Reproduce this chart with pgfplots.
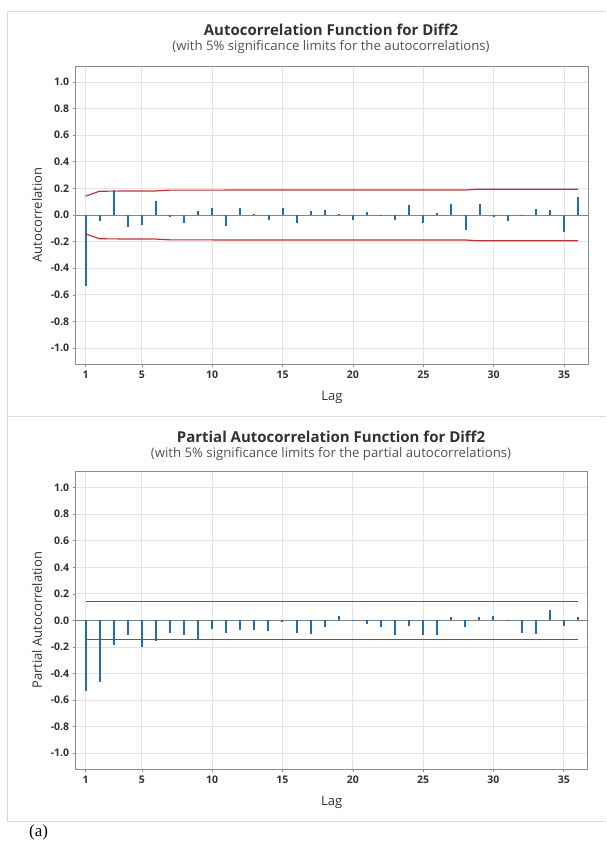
\documentclass[border=0pt]{standalone}
\usepackage{fontspec}
\setmainfont{Open Sans}
\newfontfamily\serifa{Liberation Serif}
\usepackage{pgfplots}
\pgfplotsset{compat=1.18}
\definecolor{barblue}{RGB}{31,108,186}
\definecolor{limred}{RGB}{190,50,50}
\definecolor{gridgray}{RGB}{228,228,228}
\definecolor{framegray}{RGB}{140,140,140}
\definecolor{zerogray}{RGB}{130,130,130}
\definecolor{textdark}{RGB}{50,50,50}
\definecolor{panelgray}{RGB}{220,220,220}

\pgfplotstableread{
lag acf
1 -0.535
2 -0.045
3 0.19
4 -0.09
5 -0.075
6 0.105
7 -0.012
8 -0.057
9 0.032
10 0.055
11 -0.08
12 0.05
13 0.01
14 -0.035
15 0.05
16 -0.06
17 0.028
18 0.04
19 0.005
20 -0.04
21 0.022
22 -0.005
23 -0.035
24 0.075
25 -0.06
26 0.018
27 0.085
28 -0.115
29 0.083
30 -0.012
31 -0.048
32 0.003
33 0.048
34 0.04
35 -0.128
36 0.138
}\acftable

\pgfplotstableread{
lag pacf
1 -0.535
2 -0.465
3 -0.1875
4 -0.1075
5 -0.2
6 -0.1575
7 -0.0975
8 -0.1075
9 -0.14
10 -0.0625
11 -0.0975
12 -0.0725
13 -0.0725
14 -0.08
15 -0.0125
16 -0.0925
17 -0.105
18 -0.0525
19 0.0325
20 0.002
21 -0.0275
22 -0.0475
23 -0.1075
24 -0.04
25 -0.1075
26 -0.1075
27 0.025
28 -0.0475
29 0.0275
30 0.03
31 -0.002
32 -0.095
33 -0.1
34 0.075
35 -0.04
36 0.025
}\pacftable

\pgfplotsset{
  acfstyle/.style={
    scale only axis,
    xmin=0.3, xmax=36.7, ymin=-1.12, ymax=1.12,
    xtick={1,5,10,15,20,25,30,35},
    ytick={-1.0,-0.8,-0.6,-0.4,-0.2,0,0.2,0.4,0.6,0.8,1.0},
    grid=major,
    grid style={draw=gridgray, line width=0.8pt},
    axis line style={draw=framegray, line width=0.8pt},
    tick style={draw=framegray, line width=0.6pt},
    major tick length=3pt,
    tick align=outside,
    xtick pos=bottom, ytick pos=left,
    ticklabel style={font=\fontsize{10.5}{12}\selectfont\bfseries, text=textdark},
    yticklabel style={/pgf/number format/.cd, fixed, fixed zerofill, precision=1, assume math mode=true},
    xticklabel style={/pgf/number format/assume math mode=true},
    label style={font=\fontsize{13}{15}\selectfont, text=textdark},
    xlabel={Lag},
    xlabel style={at={(axis description cs:0.5,-0.111)}, anchor=center},
    ylabel style={at={(axis description cs:-0.0755,0.5)}, anchor=center, rotate=0},
  }
}

\begin{document}
\begin{tikzpicture}
\path[use as bounding box] (0pt,0pt) rectangle (606pt,-851pt);
\draw[panelgray, line width=0.8pt] (7.5pt,-11.5pt) -- (605.5pt,-11.5pt);
\draw[panelgray, line width=0.8pt] (7.5pt,-11.5pt) -- (7.5pt,-821pt) -- (605.5pt,-821pt);
\draw[panelgray, line width=0.8pt] (7.5pt,-416pt) -- (605.5pt,-416pt);

\node[font=\fontsize{15}{17}\selectfont\bfseries, text=textdark] at (331pt,-30pt) {Autocorrelation Function for Diff2};
\node[font=\fontsize{13.2}{15}\selectfont, text=textdark!85] at (331pt,-47.5pt) {(with 5\% significance limits for the autocorrelations)};
\node[font=\fontsize{15}{17}\selectfont\bfseries, text=textdark] at (331pt,-437pt) {Partial Autocorrelation Function for Diff2};
\node[font=\fontsize{13.2}{15}\selectfont, text=textdark!85] at (331pt,-454.5pt) {(with 5\% significance limits for the partial autocorrelations)};
\node[font=\serifa\fontsize{17}{19}\selectfont, anchor=west, inner sep=0pt] at (29pt,-832pt) {(a)};

\begin{axis}[acfstyle, at={(75.7pt,-364pt)}, anchor=south west,
  width=512.3pt, height=298pt, ylabel={Autocorrelation}]
\addplot[zerogray, line width=0.8pt, no markers] coordinates {(0.3,0) (36.7,0)};
\addplot[ycomb, barblue, line width=2pt, no markers] table[x=lag, y=acf] {\acftable};
\addplot[draw=limred, line width=1.2pt, no markers] coordinates {(1,0.142) (2,0.179) (6,0.181) (7,0.187) (28,0.188) (29,0.194) (36,0.194)};
\addplot[draw=limred, line width=1.2pt, no markers] coordinates {(1,-0.142) (2,-0.179) (6,-0.181) (7,-0.187) (28,-0.188) (29,-0.194) (36,-0.194)};
\end{axis}

\begin{axis}[acfstyle, at={(75.7pt,-769pt)}, anchor=south west,
  width=512pt, height=297.3pt, ylabel={Partial Autocorrelation}]
\addplot[zerogray, line width=0.8pt, no markers] coordinates {(0.3,0) (36.7,0)};
\addplot[ycomb, barblue, line width=2pt, no markers] table[x=lag, y=pacf] {\pacftable};
\addplot[draw=limred, line width=1.3pt, no markers] coordinates {(1,0.1425) (12,0.1425) (24,0.1425) (36,0.1425)};
\addplot[draw=limred, line width=1.3pt, no markers] coordinates {(1,-0.1425) (12,-0.1425) (24,-0.1425) (36,-0.1425)};
\end{axis}
\end{tikzpicture}
\end{document}
